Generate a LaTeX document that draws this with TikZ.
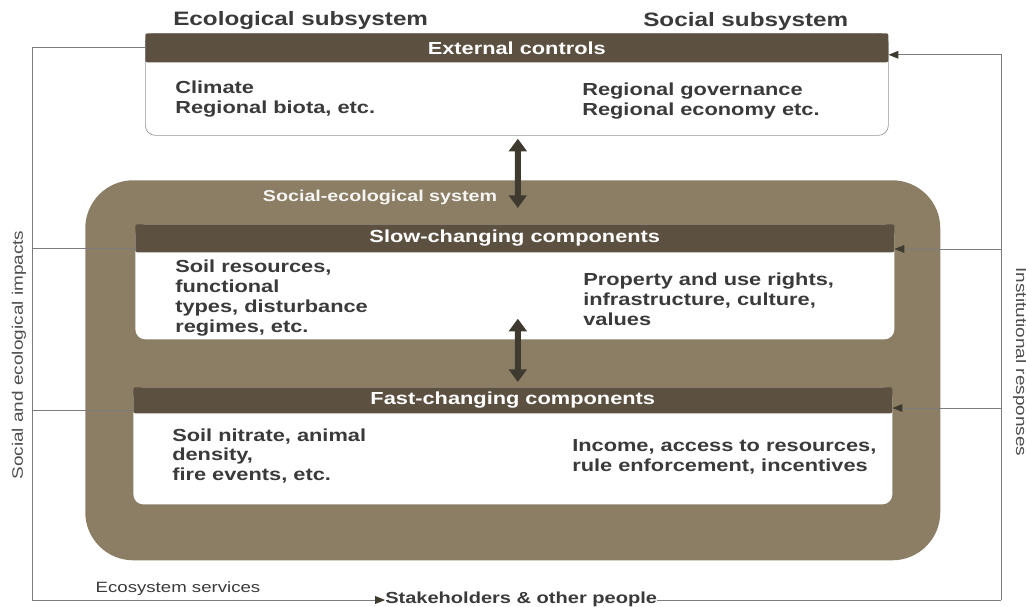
\documentclass[tikz,border=0pt]{standalone}
\usepackage{fontspec}
\setmainfont{Liberation Sans}[FakeStretch=1.25]
\usetikzlibrary{positioning,arrows.meta}

\newlength{\pxu}\setlength{\pxu}{0.025cm}
\definecolor{sesbrown}{HTML}{8B7E65}
\definecolor{barbrown}{HTML}{5C5040}
\definecolor{arrowdark}{HTML}{3E3A2F}
\definecolor{txtgray}{HTML}{3A3A3A}
\definecolor{linegray}{HTML}{7C7C7C}

\tikzset{
  sesrect/.style={fill=sesbrown, rounded corners=48\pxu, inner sep=0pt, anchor=north west},
  panel/.style={draw=linegray!80, line width=0.5pt, fill=white, rounded corners=10\pxu, inner sep=0pt, anchor=north west},
  bar/.style={fill=barbrown, text=white, rounded corners=2\pxu, inner sep=0pt, anchor=north west,
    font=\bfseries\fontsize{12.4}{14}\selectfont},
  body/.style={text=txtgray, align=left, inner sep=0pt, anchor=west,
    font=\bfseries\fontsize{12.4}{14.2}\selectfont},
  head/.style={text=txtgray, inner sep=0pt, anchor=west, font=\bfseries\fontsize{13.8}{15}\selectfont},
  side/.style={text=txtgray!90, inner sep=0pt, font=\fontsize{10.8}{12}\selectfont},
  fb/.style={draw=linegray, line width=0.6pt},
  tip/.style={-{Triangle[length=7pt,width=5.5pt,color=arrowdark]}},
  twoway/.style={draw=arrowdark, line width=4.2pt,
    {Triangle[length=9pt,width=12.5pt]}-{Triangle[length=9pt,width=12.5pt]}},
}

\begin{document}
\begin{tikzpicture}[x=0.025cm, y=-0.025cm]
  % social-ecological system with its external controls
  \useasboundingbox (0,0) rectangle (1026,606);

  \node[head] (eco) at (173,21) {Ecological subsystem};
  \node[head] (soc) at (643,21) {Social subsystem};

  \node[panel, minimum width=743\pxu, minimum height=102\pxu] (extbox) at (145,33) {};
  \node[bar, minimum width=743\pxu, minimum height=29\pxu] (ext) at (145,33) {External controls};
  \node[body] (clim) at (175,99) {Climate\\Regional biota, etc.};
  \node[body] (gov) at (582,101) {Regional governance\\Regional economy etc.};

  \node[sesrect, minimum width=855\pxu, minimum height=380\pxu] (ses) at (85,180) {};
  \node[text=white!92!sesbrown, inner sep=0pt, font=\bfseries\fontsize{11.2}{13}\selectfont]
    (seslab) at (380,197) {Social-ecological system};

  \node[panel, draw=none, minimum width=759\pxu, minimum height=115\pxu] (slowbox) at (135,224) {};
  \node[bar, minimum width=759\pxu, minimum height=28\pxu] (slow) at (135,224) {Slow-changing components};
  \node[body] (soil) at (175,298) {Soil resources,\\functional\\types, disturbance\\regimes, etc.};
  \node[body] (prop) at (583,299) {Property and use rights,\\infrastructure, culture,\\values};

  \node[panel, draw=none, minimum width=759\pxu, minimum height=117\pxu] (fastbox) at (133,387) {};
  \node[bar, minimum width=759\pxu, minimum height=26\pxu] (fast) at (133,387) {Fast-changing components};
  \node[body] (nitr) at (172,456) {Soil nitrate, animal\\density,\\fire events, etc.};
  \node[body] (inc) at (572,457) {Income, access to resources,\\rule enforcement, incentives};

  \draw[twoway] ([xshift=1\pxu, yshift=-3\pxu]extbox.south) -- ([xshift=3\pxu, yshift=16\pxu]slow.north);
  \draw[twoway] ([xshift=3\pxu, yshift=21\pxu]slowbox.south) -- ([xshift=5\pxu, yshift=5\pxu]fast.north);

  \node[text=txtgray, inner sep=0pt, font=\fontsize{10.6}{12}\selectfont] (serv) at (178,589) {Ecosystem services};
  \node[text=txtgray, inner sep=0pt, anchor=west, font=\bfseries\fontsize{11.4}{13}\selectfont]
    (stake) at (385,599) {Stakeholders \& other people};
  \node[side, rotate=90] (impacts) at (19,355) {Social and ecological impacts};
  \node[side, rotate=-90] (resp) at (1020,362) {Institutional responses};

  % feedback loop
  \coordinate (lb) at (32,600);
  \coordinate (rb) at (1001,600);
  \coordinate (ls) at (32,248);
  \coordinate (lf) at (32,410);
  \coordinate (rs) at (1001,249);
  \coordinate (rf) at (1001,408);
  \draw[fb] (ext.west) -| (lb);
  \draw[fb, tip] (lb) -- (stake.west |- lb);
  \draw[fb] (ls) -- (ls -| slow.west);
  \draw[fb] (lf) -- (lf -| fast.west);
  \draw[fb] (stake.east |- rb) -- (rb);
  \draw[fb, tip] (rb) |- ([yshift=-7\pxu]ext.east);
  \draw[fb, tip] (rs) -- (rs -| slow.east);
  \draw[fb, tip] (rf) -- (rf -| fast.east);
\end{tikzpicture}
\end{document}
